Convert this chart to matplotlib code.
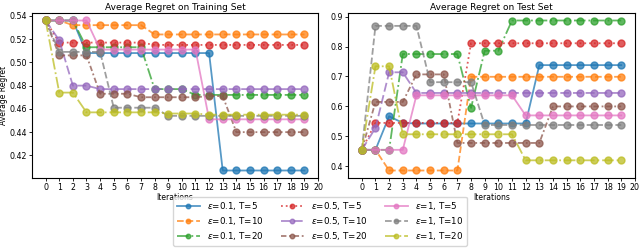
import matplotlib
matplotlib.use('Agg')
import matplotlib.pyplot as plt
from matplotlib.ticker import MultipleLocator

iters = list(range(20))

# 训练集平均遗憾
train_e01_t5 = [0.536, 0.536, 0.536, 0.508, 0.508, 0.508, 0.508, 0.508, 0.508, 0.508,
                0.508, 0.508, 0.508, 0.407, 0.407, 0.407, 0.407, 0.407, 0.407, 0.407]
train_e01_t10 = [0.536, 0.536, 0.532, 0.532, 0.532, 0.532, 0.532, 0.532, 0.524, 0.524,
                 0.524, 0.524, 0.524, 0.524, 0.524, 0.524, 0.524, 0.524, 0.524, 0.524]
train_e01_t20 = [0.536, 0.536, 0.536, 0.513, 0.513, 0.513, 0.513, 0.513, 0.477, 0.477,
                 0.477, 0.472, 0.472, 0.472, 0.472, 0.472, 0.472, 0.472, 0.472, 0.472]
train_e05_t5 = [0.536, 0.517, 0.517, 0.517, 0.517, 0.517, 0.517, 0.517, 0.515, 0.515,
                0.515, 0.515, 0.515, 0.515, 0.515, 0.515, 0.515, 0.515, 0.515, 0.515]
train_e05_t10 = [0.536, 0.519, 0.480, 0.480, 0.477, 0.477, 0.477, 0.477, 0.477, 0.477,
                 0.477, 0.477, 0.477, 0.477, 0.477, 0.477, 0.477, 0.477, 0.477, 0.477]
train_e05_t20 = [0.536, 0.506, 0.506, 0.506, 0.473, 0.473, 0.473, 0.470, 0.470, 0.470,
                 0.470, 0.470, 0.471, 0.471, 0.440, 0.440, 0.440, 0.440, 0.440, 0.440]
train_e1_t5 = [0.536, 0.536, 0.536, 0.536, 0.511, 0.511, 0.511, 0.511, 0.511, 0.511,
               0.511, 0.511, 0.451, 0.451, 0.451, 0.451, 0.451, 0.451, 0.451, 0.451]
train_e1_t10 = [0.536, 0.509, 0.509, 0.509, 0.509, 0.461, 0.461, 0.461, 0.461, 0.454,
                0.454, 0.454, 0.454, 0.454, 0.454, 0.454, 0.454, 0.454, 0.454, 0.454]
train_e1_t20 = [0.536, 0.474, 0.474, 0.457, 0.457, 0.457, 0.457, 0.457, 0.457, 0.456,
                0.456, 0.456, 0.455, 0.455, 0.455, 0.455, 0.455, 0.455, 0.455, 0.455]

# 测试集平均遗憾
test_e01_t5 = [0.455, 0.455, 0.567, 0.545, 0.543, 0.543, 0.543, 0.543, 0.543, 0.543,
               0.543, 0.543, 0.543, 0.738, 0.738, 0.738, 0.738, 0.738, 0.738, 0.738]
test_e01_t10 = [0.455, 0.455, 0.386, 0.386, 0.386, 0.386, 0.386, 0.386, 0.699, 0.699,
                0.699, 0.699, 0.699, 0.699, 0.699, 0.699, 0.699, 0.699, 0.699, 0.699]
test_e01_t20 = [0.455, 0.455, 0.455, 0.775, 0.775, 0.775, 0.775, 0.775, 0.595, 0.786,
                0.786, 0.887, 0.887, 0.887, 0.887, 0.887, 0.887, 0.887, 0.887, 0.887]
test_e05_t5 = [0.455, 0.545, 0.545, 0.545, 0.545, 0.545, 0.545, 0.545, 0.811, 0.811,
               0.811, 0.811, 0.811, 0.811, 0.811, 0.811, 0.811, 0.811, 0.811, 0.811]
test_e05_t10 = [0.455, 0.528, 0.714, 0.714, 0.645, 0.645, 0.645, 0.645, 0.645, 0.645,
                0.645, 0.645, 0.645, 0.645, 0.645, 0.645, 0.645, 0.645, 0.645, 0.645]
test_e05_t20 = [0.455, 0.615, 0.615, 0.615, 0.707, 0.707, 0.707, 0.478, 0.478, 0.478,
                0.478, 0.478, 0.478, 0.478, 0.600, 0.600, 0.600, 0.600, 0.600, 0.600]
test_e1_t5 = [0.455, 0.455, 0.455, 0.455, 0.637, 0.637, 0.637, 0.637, 0.637, 0.637,
              0.637, 0.637, 0.570, 0.570, 0.570, 0.570, 0.570, 0.570, 0.570, 0.570]
test_e1_t10 = [0.455, 0.869, 0.869, 0.869, 0.869, 0.681, 0.681, 0.681, 0.681, 0.538,
               0.538, 0.538, 0.538, 0.538, 0.538, 0.538, 0.538, 0.538, 0.538, 0.538]
test_e1_t20 = [0.455, 0.734, 0.734, 0.507, 0.507, 0.507, 0.507, 0.507, 0.507, 0.507,
               0.507, 0.507, 0.420, 0.420, 0.420, 0.420, 0.420, 0.420, 0.420, 0.420]

labels = [r'$\epsilon$=0.1, T=5', r'$\epsilon$=0.1, T=10', r'$\epsilon$=0.1, T=20',
          r'$\epsilon$=0.5, T=5', r'$\epsilon$=0.5, T=10', r'$\epsilon$=0.5, T=20',
          r'$\epsilon$=1, T=5', r'$\epsilon$=1, T=10', r'$\epsilon$=1, T=20']
train_all = [train_e01_t5, train_e01_t10, train_e01_t20, train_e05_t5, train_e05_t10,
             train_e05_t20, train_e1_t5, train_e1_t10, train_e1_t20]
test_all = [test_e01_t5, test_e01_t10, test_e01_t20, test_e05_t5, test_e05_t10,
            test_e05_t20, test_e1_t5, test_e1_t10, test_e1_t20]

colors = ['tab:blue', 'tab:orange', 'tab:green', 'tab:red', 'tab:purple',
          'tab:brown', 'tab:pink', 'tab:gray', 'tab:olive']
styles = ['-', '--', '-.', ':', (0, (5, 2)), (0, (3, 1.5, 1, 1.5)), '-', '--', '-.']

fig = plt.figure(figsize=(6.4, 2.5), dpi=100)
ax1 = fig.add_axes([0.05, 0.288, 0.447, 0.66])
ax2 = fig.add_axes([0.544, 0.288, 0.448, 0.66])

for ax, data, title in [(ax1, train_all, 'Average Regret on Training Set'),
                        (ax2, test_all, 'Average Regret on Test Set')]:
    for y, c, ls, lab in zip(data, colors, styles, labels):
        ax.plot(iters, y, linestyle=ls, color=c, marker='o', ms=5, lw=1.3,
                alpha=0.75, label=lab)
    ax.set_xticks(range(21))
    ax.set_xlim(-1, 20)
    ax.set_title(title, fontsize=6.5, pad=2)
    ax.set_xlabel('Iterations', fontsize=5.5, labelpad=1)
    ax.tick_params(labelsize=5.7, length=2, pad=1.5, width=0.6)
    for s in ax.spines.values():
        s.set_linewidth(0.8)

ax1.yaxis.set_major_locator(MultipleLocator(0.02))
ax2.yaxis.set_major_locator(MultipleLocator(0.1))
ax1.set_ylabel('Average Regret', fontsize=5.5, labelpad=1)

handles, labs = ax1.get_legend_handles_labels()
fig.legend(handles, labs, ncol=3, loc='lower center', bbox_to_anchor=(0.5, 0.0),
           fontsize=6.3, handlelength=2.6, columnspacing=2.0, markerscale=0.65,
           borderpad=0.45, labelspacing=0.3, handletextpad=0.8)

fig.savefig('out.png', dpi=100)
